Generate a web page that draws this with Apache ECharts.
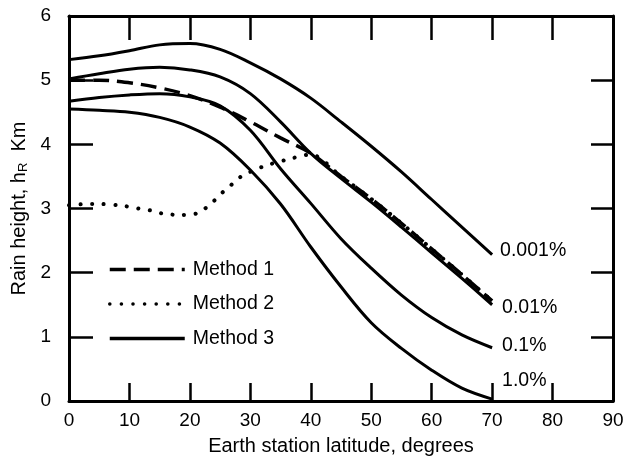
<!DOCTYPE html>
<html>
<head>
<meta charset="utf-8">
<script src="https://cdn.jsdelivr.net/npm/echarts@6/dist/echarts.min.js"></script>
<style>html,body{margin:0;padding:0;background:#fff;}#c{width:625px;height:465px;}</style>
</head>
<body>
<div id="c"></div>
<script>
// ---- data ----
const xTicks = [0,10,20,30,40,50,60,70,80,90];
const yTicks = [0,1,2,3,4,5,6];
const lat = [0,5,10,15,20,25,30,35,40,45,50,55,60,65,70];
const h0001 = [5.32,5.38,5.46,5.55,5.57,5.48,5.27,5.02,4.72,4.35,3.97,3.57,3.14,2.71,2.28];
const h001  = [5.02,5.10,5.17,5.20,5.16,5.05,4.79,4.35,3.86,3.47,3.10,2.71,2.31,1.91,1.50];
const h01   = [4.67,4.73,4.77,4.79,4.74,4.60,4.22,3.62,3.08,2.53,2.07,1.65,1.30,1.03,0.83];
const h1    = [4.55,4.53,4.50,4.42,4.27,4.02,3.60,3.07,2.40,1.78,1.22,0.82,0.48,0.20,0.03];
const m1Lat = [0,5,10,15,20,25,30,35,40,45,50,55,60,65,70];
const m1    = [5.00,5.00,4.96,4.88,4.76,4.58,4.35,4.10,3.86,3.50,3.15,2.77,2.37,1.97,1.56];
const m2Lat = [0,3,5,9,11.5,13.5,15.5,18.5,21,22.5,24,25.5,27,28.5,32,36,40,45,50,55,60,65,70];
const m2    = [3.05,3.07,3.07,3.04,3.00,2.97,2.92,2.90,2.92,3.00,3.12,3.26,3.38,3.50,3.65,3.76,3.84,3.50,3.15,2.77,2.37,1.97,1.56];
const curveNames = ['0.001%','0.01%','0.1%','1.0%'];
const legendNames = ['Method 1','Method 2','Method 3'];

const pairs = (xs, ys) => xs.map((x,i)=>[x, ys[i]]);
const FONT = '"Liberation Sans", Arial, Helvetica, sans-serif';
const chart = echarts.init(document.getElementById('c'), null, {renderer:'canvas'});

const m3Curves = [h0001, h001, h01, h1];
const labelOffsets = [[0,-4],[2,3],[2,-2],[2,-18]];

const series = m3Curves.map((ys, k) => ({
  name: legendNames[2], type: 'line', smooth: 0.35, symbol: 'none',
  data: pairs(lat, ys),
  lineStyle: {color:'#000', width: 3},
  itemStyle: {color:'#000'},
  z: 2,
  endLabel: {show: true, formatter: curveNames[k], offset: labelOffsets[k],
             color:'#000', fontSize: 19.5, fontFamily: FONT}
}));
series.push({
  name: legendNames[0], type:'line', smooth: 0.35, symbol:'none',
  data: pairs(m1Lat, m1),
  lineStyle: {color:'#000', width: 3.5, type: [16, 8]},
  itemStyle: {color:'#000'}, z: 3
});
series.push({
  name: legendNames[1], type:'line', smooth: 0.3, symbol:'none',
  data: pairs(m2Lat, m2),
  lineStyle: {color:'#000', width: 4, type: [0.1, 11.5], cap: 'round'},
  itemStyle: {color:'#000'}, z: 3
});

const option = {
  animation: false,
  backgroundColor: '#fff',
  textStyle: {fontFamily: FONT, color:'#000'},
  grid: {left: 69, right: 12, top: 16, bottom: 64, containLabel: false, outerBoundsMode: 'none'},
  legend: {
    data: legendNames, orient: 'vertical', left: 108, top: 259.5, padding: 0,
    itemWidth: 75, itemHeight: 20, itemGap: 14.5,
    itemStyle: {opacity: 0},
    lineStyle: {width: 3.5},
    textStyle: {fontSize: 19.5, color:'#000', fontFamily: FONT, padding:[0,0,0,3]},
    selectedMode: false
  },
  xAxis: [{
    type:'value', min: xTicks[0], max: xTicks[xTicks.length-1], interval: 10,
    name: 'Earth station latitude, degrees', nameLocation:'middle', nameGap: 35,
    nameTextStyle: {fontSize: 20, color:'#000', fontFamily: FONT},
    axisLine: {show:true, onZero:false, lineStyle:{color:'#000', width:3}},
    axisTick: {show:true, inside:true, length:18, lineStyle:{color:'#000', width:2.5}},
    axisLabel: {color:'#000', fontSize:19, margin:10, fontFamily: FONT},
    splitLine: {show:false}
  },{
    type:'value', position:'top', min: xTicks[0], max: xTicks[xTicks.length-1], interval: 10,
    axisLine: {show:true, onZero:false, lineStyle:{color:'#000', width:3}},
    axisTick: {show:true, inside:true, length:24, lineStyle:{color:'#000', width:2.5}},
    axisLabel: {show:false}, splitLine: {show:false}
  }],
  yAxis: [{
    type:'value', min: yTicks[0], max: yTicks[yTicks.length-1], interval: 1,
    name: 'Rain height, h{s|R}  Km', nameLocation:'middle', nameGap: 32,
    nameTextStyle: {fontSize: 20, color:'#000', fontFamily: FONT,
      rich: {s: {fontSize: 13, fontFamily: FONT, color:'#000', verticalAlign:'bottom', padding:[8,0,0,0]}}},
    axisLine: {show:true, onZero:false, lineStyle:{color:'#000', width:3}},
    axisTick: {show:true, inside:true, length:24, lineStyle:{color:'#000', width:2.5}},
    axisLabel: {color:'#000', fontSize:19, margin:18, fontFamily: FONT},
    splitLine: {show:false}
  },{
    type:'value', position:'right', min: yTicks[0], max: yTicks[yTicks.length-1], interval: 1,
    axisLine: {show:true, onZero:false, lineStyle:{color:'#000', width:3}},
    axisTick: {show:true, inside:true, length:22, lineStyle:{color:'#000', width:2.5}},
    axisLabel: {show:false}, splitLine: {show:false}
  }],
  series: series
};
chart.setOption(option);
</script>
</body>
</html>
